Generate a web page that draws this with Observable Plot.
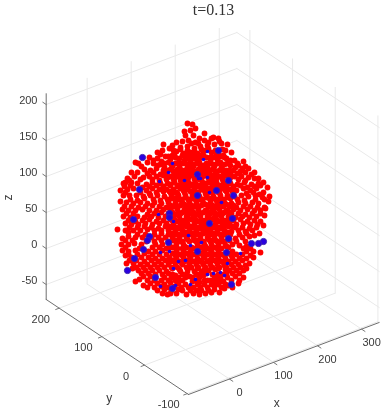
<!DOCTYPE html>
<html><head><meta charset="utf-8">
<script src="https://cdn.jsdelivr.net/npm/d3@7"></script>
<script src="https://cdn.jsdelivr.net/npm/@observablehq/plot@0.6"></script>
<style>html,body{margin:0;padding:0;background:#fff}svg{display:block;filter:blur(0.3px)}</style>
</head><body><div id="chart"></div>
<script>
const xTicks=[0,100,200,300], yTicks=[-100,0,100,200], zTicks=[-50,0,50,100,150,200];
const xLim=[-93,340], yLim=[-103,230.5], zLim=[-70.8,215];
const title="t=0.13";
// particle positions as seen in the view plane of the 3-D axes
const redPoints=[
[87,177],[92,176],[95,172],[84,169],[90,170],[85,165],[93,165],[104,167],[99,162],
[82,159],[88,160],[95,158],[104,160],[111,162],[118,162],[113,163],
[63,156],[72,155],[69,152],[80,153],[87,154],[94,152],[100,154],[107,155],[114,156],[121,157],[127,156],
[57,148],[62,150],[76,149],[83,147],[90,148],[97,147],[105,150],[111,148],[118,147],[125,150],[131,148],[130,140],
[49,143],[57,142],[65,144],[72,145],[79,142],[86,142],[93,142],[100,143],[106,143],[113,143],[120,144],[126,142],[134,140],[143,139],
[35,138],[38,137],[47,138],[53,137],[60,136],[68,138],[75,137],[82,137],[89,136],[96,137],[103,135],[110,137],[117,137],[124,136],[130,135],[138,135],[145,134],
[31,128],[44,131],[50,130],[56,132],[63,130],[70,131],[77,131],[84,130],[91,131],[98,131],[105,130],[112,131],[119,130],[126,130],[133,130],[140,129],[148,132],[154,128],
[27,122],[34,124],[43,123],[49,124],[56,124],[63,125],[70,124],[77,124],[84,125],[91,125],[98,124],[105,125],[112,125],[119,124],[126,125],[134,124],[141,124],[148,123],[154,122],
[23,117],[25,118],[31,118],[37,117],[46,116],[52,118],[60,117],[67,117],[74,118],[81,117],[88,118],[95,117],[102,118],[109,118],[116,118],[123,117],[130,117],[137,116],[144,118],[151,116],[158,117],[163,118],
[20,110],[27,111],[33,112],[46,110],[52,112],[59,111],[66,111],[73,111],[80,112],[87,111],[94,112],[101,111],[108,112],[115,111],[122,112],[129,111],[136,110],[143,112],[150,110],[156,112],[163,108],[167,113],
[23,105],[29,105],[36,105],[43,104],[50,105],[57,105],[64,104],[71,105],[78,105],[85,105],[92,105],[99,104],[106,105],[113,104],[120,105],[127,105],[134,104],[141,105],[148,104],[155,105],[162,103],[169,104],
[20,99],[26,98],[33,97],[40,98],[47,97],[54,98],[61,97],[68,98],[75,98],[82,98],[89,98],[96,98],[103,97],[110,98],[117,97],[124,98],[131,97],[138,98],[145,97],[152,98],[158,97],[168,99],[164,93],
[22,91],[28,90],[35,90],[42,91],[49,90],[56,90],[63,91],[70,91],[77,91],[84,91],[91,91],[98,91],[105,90],[112,91],[119,91],[126,90],[133,91],[140,90],[147,91],[154,90],[160,90],[165,92],
[23,84],[30,83],[37,84],[44,83],[51,84],[58,83],[65,84],[72,84],[79,84],[86,84],[93,84],[100,84],[107,84],[114,83],[121,84],[128,84],[135,83],[142,84],[149,83],[156,84],[164,85],
[25,77],[31,76],[38,76],[45,77],[52,76],[59,77],[66,77],[73,77],[80,77],[87,77],[94,77],[101,76],[108,77],[115,76],[122,77],[129,77],[136,76],[143,77],[150,76],[157,76],[163,75],
[17,71],[25,70],[33,70],[40,70],[47,71],[54,70],[61,70],[68,70],[75,70],[82,70],[89,70],[96,70],[103,70],[110,70],[117,70],[124,70],[131,69],[138,70],[145,69],[152,70],[159,67],
[22,62],[28,64],[35,63],[42,63],[51,63],[58,63],[65,63],[72,63],[79,63],[86,63],[93,63],[100,63],[107,63],[114,63],[121,63],[135,62],[142,63],[149,64],
[21,56],[28,56],[34,57],[41,56],[55,56],[62,56],[69,56],[76,56],[83,56],[97,56],[104,56],[111,56],[118,56],[125,55],[132,56],[139,55],[146,54],
[22,50],[28,49],[35,50],[48,49],[55,49],[62,50],[76,49],[83,49],[90,49],[104,49],[111,49],[118,49],[132,49],[146,49],[153,49],[160,48],
[25,45],[31,43],[41,43],[48,43],[55,42],[62,42],[69,43],[76,42],[83,43],[90,42],[97,42],[104,43],[111,42],[118,42],[125,42],[132,42],[139,42],[146,42],[153,43],
[26,37],[33,37],[40,36],[47,36],[54,36],[61,36],[68,36],[75,35],[82,36],[89,36],[96,36],[103,36],[110,36],[117,36],[124,35],[131,36],[138,36],[145,35],[149,37],
[32,32],[38,30],[45,30],[52,30],[59,30],[66,29],[80,29],[87,29],[94,29],[101,29],[108,30],[115,31],[129,30],[136,30],[143,30],
[35,19],[43,24],[50,24],[64,23],[71,23],[78,23],[85,23],[92,23],[99,23],[114,22],[120,22],[127,23],[135,24],[143,23],
[43,15],[50,17],[57,17],[64,16],[78,17],[85,16],[97,16],[104,16],[111,16],[118,16],[125,16],[138,17],
[57,10],[64,11],[71,10],[78,11],[82,10],[90,10],[96,10],[101,10],[108,10],[114,11],[124,12],[132,13],
[67,6],[111,8],[119,8],[105,7],
[78,127],[85,121],[92,128],[99,121],[106,128],[113,121],[88,114],[95,108],[102,114],[109,108],[116,114],[74,108],[81,101],[88,101],[95,94],[102,101],[109,94],[116,101],[123,94],
[73,94],[80,87],[87,94],[94,87],[101,80],[108,87],[115,80],[122,87],[72,80],[79,73],[86,80],[93,73],[100,66],[107,73],[114,66],[121,73],[128,80],[75,66],[82,59],[89,66],[96,59],[103,52],[110,59],[117,52],[124,59],[68,52],[75,45],[82,52],[89,45],[96,52],[103,45],[110,39],[117,45],[124,39],[131,45],[70,39],[77,33],[84,39],[91,33],[98,39],[105,33],[112,26],[119,33],[126,26],[72,26],[79,20],[86,26],[93,20],[100,26],[107,20],
[60,146],[74,147],[86,145],[92,146],[102,146],[116,146],[123,145],
[53,140],[61,139],[70,141],[84,140],[90,139],[97,141],[110,140],[117,141],[128,139],[137,137],
[41,134],[57,135],[64,133],[72,134],[79,135],[87,133],[93,134],[100,134],[107,133],[114,134],[121,133],[135,133],[142,132],
[37,128],[47,127],[53,128],[60,126],[66,128],[74,127],[81,128],[88,127],[95,128],[102,127],[109,128],[116,126],[123,128],[130,127],[137,127],[145,128],[151,126],
[29,120],[40,121],[52,121],[59,120],[66,121],[73,121],[80,120],[87,121],[94,121],[101,121],[108,122],[115,120],[122,121],[129,120],[138,121],[145,120],[158,122],
[24,114],[30,115],[42,113],[49,114],[56,115],[63,114],[70,115],[77,114],[84,113],[91,115],[98,114],[105,115],[112,114],[119,113],[126,114],[133,114],[140,115],[147,113],[154,114],[160,115],
[25,108],[40,108],[49,107],[56,108],[63,109],[70,108],[77,107],[84,108],[91,109],[98,108],[105,107],[112,108],[119,108],[126,109],[133,108],[146,107],[153,108],[159,106],
[30,101],[37,100],[44,102],[53,101],[60,100],[67,101],[74,102],[81,100],[88,101],[95,101],[102,100],[109,102],[116,100],[123,101],[130,102],[137,101],[144,100],[155,101],[164,101],
[24,94],[31,94],[38,93],[45,94],[52,95],[59,94],[66,93],[73,94],[80,95],[87,93],[94,94],[101,95],[108,94],[115,93],[122,95],[129,94],[136,93],[143,94],[150,94],[157,93],
[26,87],[33,87],[47,86],[54,87],[61,88],[68,87],[75,86],[82,88],[89,87],[96,86],[103,88],[110,87],[117,86],[124,88],[131,87],[138,87],[145,86],[152,87],[160,87],
[28,80],[35,79],[42,80],[49,81],[56,79],[63,80],[70,81],[77,79],[84,80],[91,81],[98,79],[105,80],[112,81],[119,79],[126,80],[133,80],[140,81],[147,79],[154,80],[160,79],
[29,73],[37,73],[44,74],[51,73],[58,72],[65,74],[72,73],[79,72],[86,74],[93,73],[100,72],[107,74],[114,73],[121,72],[128,74],[135,73],[142,73],[149,72],[156,73],
[28,68],[37,66],[45,66],[54,66],[61,67],[68,66],[75,67],[82,66],[89,67],[96,66],[103,67],[110,66],[117,67],[124,66],[130,66],[139,66],[146,67],[154,65],
[25,60],[32,60],[46,59],[54,59],[61,60],[68,59],[75,60],[89,59],[96,60],[103,59],[110,60],[117,59],[129,60],[136,59],[145,59],
[25,53],[39,52],[52,53],[59,53],[66,52],[73,53],[86,53],[93,52],[100,53],[107,52],[114,53],[121,52],[128,53],[143,52],[150,52],
[28,46],[37,46],[44,47],[52,46],[59,46],[66,46],[72,47],[79,46],[86,47],[93,46],[100,47],[107,46],[114,46],[121,46],[128,47],[136,46],[142,46],[150,45],
[29,40],[36,40],[44,39],[51,40],[58,39],[65,40],[72,40],[79,39],[86,40],[93,39],[100,40],[107,39],[114,40],[121,39],[128,39],[135,39],[142,40],
[36,33],[43,33],[50,33],[57,33],[64,33],[71,33],[86,33],[98,33],[112,33],[126,33],[133,33],[140,33],[146,32],
[41,27],[48,27],[55,26],[62,26],[68,27],[82,26],[96,26],[106,27],[118,26],[132,27],[139,27],
[39,21],[47,20],[54,20],[61,20],[68,20],[75,20],[82,20],[96,20],[104,20],[110,20],[117,20],[123,19],[131,20],[139,20],
[47,13],[54,13],[61,14],[68,13],[74,14],[81,13],[88,13],[93,13],[100,13],[107,13],[114,14],[121,13],[128,15],
[62,7],[70,7],[76,7],[86,6],[93,7],[99,6],
[76,158],[91,157],[98,157],[108,158],[119,159],
[73,150],[80,151],[87,150],[94,149],[101,151],[108,152],[115,150],[122,151],
[68,144],[75,143],[82,145],[89,144],[96,143],[103,145],[110,143],[117,144],[124,143],
[64,137],[71,136],[78,138],[85,137],[92,136],[99,138],[106,137],[113,136],[120,138],[127,137],
[66,130],[73,129],[80,131],[87,130],[94,129],[101,131],[108,130],[115,129],[122,131],[129,130],
[67,123],[74,122],[81,124],[88,123],[95,122],[102,124],[109,123],[116,122],[123,124],[130,123],
[70,116],[77,115],[84,117],[91,116],[98,115],[105,117],[112,116],[119,115],[126,117],
[69,109],[76,108],[83,110],[90,109],[97,108],[104,110],[111,109],[118,108],[125,110],[132,109],
[71,102],[78,101],[85,103],[92,102],[99,101],[106,103],[113,102],[120,101],[127,103],
[70,95],[77,94],[84,96],[91,95],[98,94],[105,96],[112,95],[119,94],[126,96],[133,95],
[72,88],[79,87],[86,89],[93,88],[100,87],[107,89],[114,88],[121,87],[128,89],
[74,81],[81,80],[88,82],[95,81],[102,80],[109,82],[116,81],[123,80],[130,82],
[69,74],[76,73],[83,75],[90,74],[97,73],[104,75],[111,74],[118,73],[125,75],[132,74],
[71,67],[78,66],[85,68],[92,67],[99,66],[106,68],[113,67],[120,66],[127,68],
[73,60],[80,59],[87,61],[94,60],[101,59],[108,61],[115,60],[122,59],[129,61],
[70,53],[77,52],[84,54],[91,53],[98,52],[105,54],[112,53],[119,52],[126,54],
[75,46],[82,45],[89,47],[96,46],[103,45],[110,47],[117,46],[124,45],
[74,39],[81,38],[88,40],[95,39],[102,38],[109,40],[116,39],[123,38],
[72,32],[79,31],[90,33],[97,32],[104,31],[111,33],[118,32],[125,31],
[75,25],[89,24],[96,26],[103,25],[116,24],[123,26],
[70,18],[77,17],[92,19],[99,18],[113,17],[120,19]
];
const blueFull=[[42,143],[39,111],[33,81],[49,64],[47,60],[27,30],[72,12],[69,87],[69,83],[118,150],[116,110],[128,120],[132,82],[109,77],[151,57],[163,59],[158,57],[97,126],[97,105],[97,49],[68,58],[131,16],[34,42],[55,23],[128,62],[133,105],[43,51],[126,48]];
const blueFrag=[[68,128],[72,137],[59,119],[84,120],[107,149],[103,141],[98,122],[100,122],[107,123],[121,98],[109,108],[58,86],[73,79],[60,48],[69,49],[78,39],[73,32],[85,40],[75,15],[60,14],[90,16],[88,65],[90,55],[101,58],[140,47],[127,37],[120,28],[107,26],[113,27],[124,25],[95,21]];

const P=(x,y,z)=>({u:88+0.4404*(x-xLim[0])-0.4267*(y-yLim[0]),v:-94+0.1663*(x-xLim[0])+0.2849*(y-yLim[0])+0.72*(z-zLim[0])});
const seg=(a,b,key)=>[{...P(...a),key},{...P(...b),key}];
const gridSegs=[];
const addG=(a,b)=>gridSegs.push(seg(a,b,gridSegs.length));
for(const x of xTicks){addG([x,yLim[0],zLim[0]],[x,yLim[1],zLim[0]]);addG([x,yLim[1],zLim[0]],[x,yLim[1],zLim[1]]);}
for(const y of yTicks){addG([xLim[0],y,zLim[0]],[xLim[1],y,zLim[0]]);addG([xLim[1],y,zLim[0]],[xLim[1],y,zLim[1]]);}
for(const z of zTicks){addG([xLim[0],yLim[1],z],[xLim[1],yLim[1],z]);addG([xLim[1],yLim[1],z],[xLim[1],yLim[0],z]);}
const axisSegs=[
 seg([xLim[0],yLim[1],zLim[0]],[xLim[0],yLim[1],zLim[1]],"z"),
 seg([xLim[0],yLim[0],zLim[0]],[xLim[1],yLim[0],zLim[0]],"x"),
 seg([xLim[0],yLim[0],zLim[0]],[xLim[0],yLim[1],zLim[0]],"y")];
const tickSegs=[
 ...xTicks.map(t=>seg([t,yLim[0],zLim[0]],[t,yLim[0]-8,zLim[0]],"x"+t)),
 ...yTicks.map(t=>seg([xLim[0],t,zLim[0]],[xLim[0]-8,t,zLim[0]],"y"+t)),
 ...zTicks.map(t=>seg([xLim[0],yLim[1],t],[xLim[0],yLim[1]+8,t],"z"+t))];
const lineOf=(segs,o)=>Plot.line(segs.flat(),{x:"u",y:"v",z:"key",...o});
const font="Liberation Sans, Helvetica, Arial, sans-serif";
const textCol="#3a3a3a";
const xyDot=(arr,o)=>Plot.dot(arr,{x:d=>d[0],y:d=>d[1],...o});
const labels=(t,pos,o)=>Plot.text(t,{x:d=>P(...pos(d)).u,y:d=>P(...pos(d)).v,text:d=>String(d),fontFamily:font,fontSize:11,fill:textCol,...o});

const chart=Plot.plot({
 width:391,height:413,margin:0,
 x:{domain:[-100,291],axis:null},
 y:{domain:[-113,300],axis:null},
 marks:[
  lineOf(gridSegs,{stroke:"#e9e9e9",strokeWidth:1}),
  lineOf(axisSegs,{stroke:"#6e6e6e",strokeWidth:1}),
  lineOf(tickSegs,{stroke:"#777",strokeWidth:1}),
  xyDot(redPoints,{r:2.9,fill:"#ff0000"}),
  xyDot(blueFull,{r:3.1,fill:"#2a00e0",stroke:"#3a20b0",strokeWidth:1}),
  xyDot(blueFrag,{r:1.8,fill:"#2a00e0"}),
  labels(xTicks,d=>[d,yLim[0],zLim[0]],{dx:10,dy:13.5}),
  labels(yTicks,d=>[xLim[0],d,zLim[0]],{dx:-18.5,dy:11}),
  labels(zTicks,d=>[xLim[0],yLim[1],d],{dx:-8.7,dy:-4,textAnchor:"end"}),
  Plot.text(["x"],{x:()=>P((xLim[0]+xLim[1])/2,yLim[0],zLim[0]).u,y:()=>P((xLim[0]+xLim[1])/2,yLim[0],zLim[0]).v,dx:-7,dy:45,fontFamily:font,fontSize:12,fill:textCol}),
  Plot.text(["y"],{x:()=>P(xLim[0],(yLim[0]+yLim[1])/2,zLim[0]).u,y:()=>P(xLim[0],(yLim[0]+yLim[1])/2,zLim[0]).v,dx:-8,dy:51.5,fontFamily:font,fontSize:12,fill:textCol}),
  Plot.text(["z"],{x:()=>P(xLim[0],yLim[1],(zLim[0]+zLim[1])/2).u,y:()=>P(xLim[0],yLim[1],(zLim[0]+zLim[1])/2).v,dx:-37.7,dy:1,rotate:-90,fontFamily:font,fontSize:12,fill:textCol}),
  Plot.text([title],{x:()=>113,y:()=>291,fontFamily:"Liberation Serif, DejaVu Serif, serif",fontSize:16,fill:"#333",letterSpacing:"0.5px"})
 ]
});
document.getElementById("chart").append(chart);
</script></body></html>
